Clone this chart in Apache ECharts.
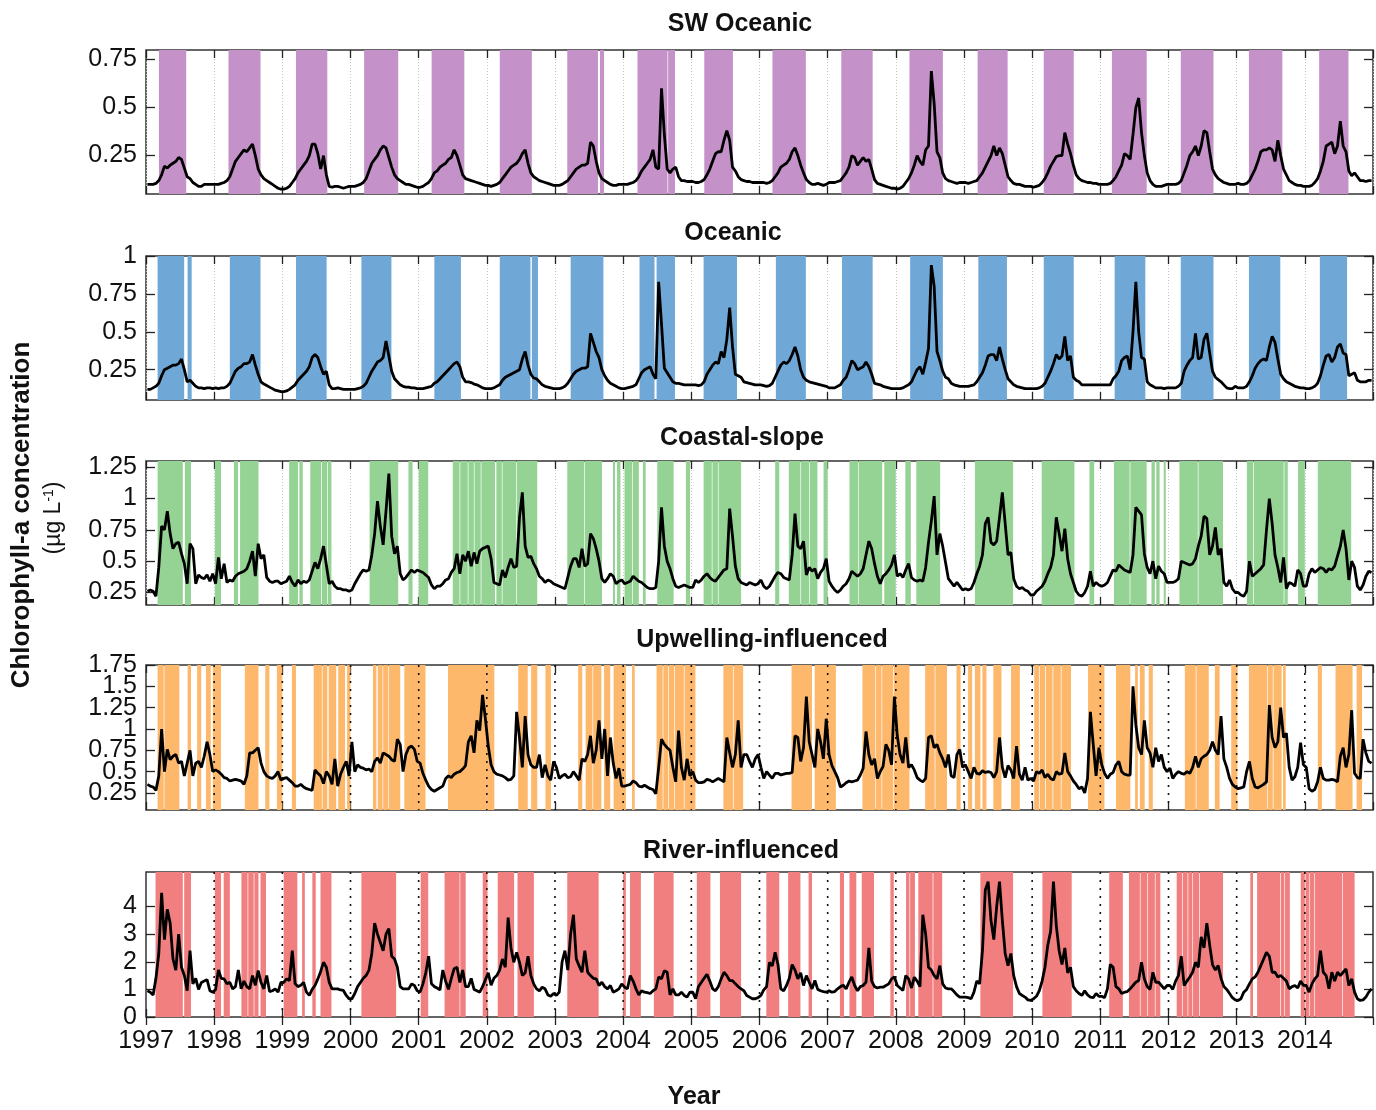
<!DOCTYPE html>
<html><head><meta charset="utf-8">
<script src="https://cdn.jsdelivr.net/npm/echarts@6/dist/echarts.min.js"></script>
<style>html,body{margin:0;padding:0;background:#fff}#c{width:1376px;height:1110px}</style>
</head><body><div id="c"></div>
<script>
// ---------------- DATA ----------------
const years = [1997,1998,1999,2000,2001,2002,2003,2004,2005,2006,2007,2008,2009,2010,2011,2012,2013,2014];
const samplesPerYear = 24;

// SW Oceanic: one row per year, semi-monthly values (µg/L)
const swOceanic = [
[0.10,0.10,0.10,0.105,0.12,0.15,0.195,0.185,0.20,0.21,0.22,0.24,0.23,0.185,0.14,0.13,0.11,0.10,0.09,0.09,0.10,0.10,0.10,0.10],
[0.10,0.10,0.105,0.11,0.12,0.14,0.18,0.22,0.24,0.26,0.28,0.27,0.29,0.31,0.25,0.18,0.15,0.13,0.12,0.11,0.10,0.09,0.08,0.075],
[0.075,0.08,0.09,0.11,0.13,0.16,0.18,0.20,0.22,0.25,0.31,0.31,0.26,0.18,0.25,0.15,0.09,0.085,0.09,0.09,0.085,0.08,0.085,0.09],
[0.09,0.09,0.095,0.10,0.11,0.13,0.17,0.21,0.23,0.25,0.28,0.30,0.29,0.24,0.19,0.15,0.13,0.12,0.11,0.10,0.10,0.095,0.09,0.085],
[0.085,0.09,0.10,0.11,0.13,0.16,0.17,0.19,0.20,0.21,0.23,0.24,0.28,0.25,0.20,0.15,0.13,0.125,0.12,0.115,0.11,0.105,0.10,0.095],
[0.095,0.09,0.095,0.10,0.11,0.13,0.15,0.17,0.19,0.20,0.21,0.23,0.26,0.28,0.21,0.16,0.14,0.13,0.12,0.115,0.11,0.105,0.10,0.095],
[0.095,0.095,0.10,0.11,0.12,0.14,0.16,0.18,0.19,0.20,0.20,0.21,0.32,0.30,0.22,0.16,0.13,0.12,0.11,0.10,0.095,0.095,0.10,0.10],
[0.10,0.10,0.105,0.11,0.12,0.14,0.17,0.19,0.21,0.23,0.28,0.19,0.18,0.60,0.36,0.18,0.16,0.18,0.19,0.14,0.12,0.12,0.115,0.115],
[0.115,0.11,0.11,0.115,0.125,0.15,0.18,0.22,0.26,0.27,0.27,0.33,0.38,0.33,0.19,0.17,0.14,0.125,0.12,0.115,0.115,0.11,0.11,0.11],
[0.11,0.11,0.105,0.11,0.12,0.14,0.16,0.19,0.20,0.21,0.23,0.27,0.29,0.25,0.20,0.16,0.125,0.11,0.10,0.10,0.105,0.10,0.095,0.10],
[0.11,0.11,0.11,0.115,0.12,0.14,0.16,0.19,0.25,0.24,0.20,0.22,0.24,0.22,0.23,0.18,0.125,0.105,0.10,0.095,0.09,0.085,0.08,0.08],
[0.075,0.08,0.09,0.11,0.13,0.16,0.20,0.25,0.22,0.20,0.28,0.30,0.69,0.52,0.27,0.24,0.16,0.13,0.12,0.115,0.11,0.105,0.11,0.11],
[0.11,0.105,0.11,0.115,0.12,0.14,0.16,0.19,0.22,0.25,0.30,0.25,0.29,0.26,0.20,0.14,0.12,0.105,0.10,0.10,0.095,0.09,0.09,0.09],
[0.085,0.09,0.095,0.11,0.13,0.16,0.195,0.22,0.245,0.25,0.25,0.37,0.31,0.26,0.20,0.15,0.13,0.12,0.115,0.11,0.11,0.105,0.105,0.10],
[0.10,0.10,0.10,0.105,0.12,0.14,0.17,0.20,0.26,0.25,0.23,0.36,0.50,0.55,0.37,0.25,0.16,0.12,0.10,0.09,0.09,0.09,0.095,0.10],
[0.10,0.10,0.10,0.105,0.12,0.16,0.20,0.25,0.27,0.30,0.25,0.30,0.38,0.37,0.27,0.18,0.15,0.13,0.12,0.11,0.105,0.10,0.10,0.10],
[0.105,0.10,0.10,0.105,0.12,0.15,0.18,0.22,0.27,0.28,0.28,0.29,0.28,0.22,0.33,0.25,0.18,0.15,0.12,0.11,0.10,0.095,0.095,0.09],
[0.09,0.09,0.095,0.11,0.13,0.17,0.22,0.30,0.31,0.32,0.26,0.30,0.43,0.30,0.27,0.17,0.145,0.16,0.14,0.12,0.12,0.115,0.12,0.12]
];
const oceanic = [
[0.12,0.12,0.13,0.14,0.16,0.21,0.25,0.26,0.27,0.28,0.28,0.29,0.32,0.25,0.17,0.18,0.16,0.14,0.13,0.13,0.125,0.13,0.13,0.125],
[0.13,0.125,0.13,0.13,0.14,0.16,0.20,0.24,0.26,0.27,0.29,0.29,0.30,0.35,0.28,0.22,0.17,0.155,0.145,0.135,0.125,0.115,0.11,0.105],
[0.105,0.11,0.12,0.135,0.15,0.18,0.20,0.22,0.24,0.27,0.33,0.35,0.33,0.27,0.22,0.24,0.15,0.125,0.125,0.13,0.125,0.12,0.12,0.12],
[0.12,0.12,0.125,0.13,0.14,0.16,0.20,0.24,0.27,0.30,0.31,0.33,0.44,0.34,0.24,0.19,0.17,0.15,0.14,0.135,0.135,0.13,0.13,0.125],
[0.125,0.125,0.13,0.135,0.14,0.16,0.17,0.19,0.21,0.23,0.25,0.27,0.29,0.30,0.27,0.20,0.17,0.17,0.165,0.155,0.15,0.14,0.13,0.125],
[0.125,0.125,0.13,0.14,0.15,0.18,0.20,0.21,0.22,0.23,0.24,0.25,0.32,0.37,0.28,0.22,0.195,0.19,0.17,0.15,0.14,0.135,0.13,0.125],
[0.125,0.125,0.13,0.14,0.16,0.19,0.22,0.24,0.25,0.26,0.26,0.27,0.49,0.43,0.37,0.33,0.25,0.21,0.18,0.16,0.15,0.14,0.13,0.125],
[0.125,0.13,0.135,0.14,0.15,0.19,0.23,0.25,0.26,0.27,0.22,0.19,0.83,0.55,0.26,0.23,0.20,0.17,0.16,0.16,0.155,0.15,0.15,0.15],
[0.15,0.15,0.145,0.15,0.17,0.22,0.25,0.28,0.30,0.29,0.37,0.33,0.45,0.66,0.40,0.22,0.21,0.20,0.17,0.165,0.16,0.155,0.15,0.15],
[0.15,0.145,0.14,0.145,0.16,0.20,0.24,0.28,0.30,0.29,0.31,0.35,0.40,0.34,0.25,0.20,0.18,0.17,0.165,0.16,0.155,0.15,0.145,0.14],
[0.13,0.13,0.13,0.14,0.15,0.18,0.20,0.25,0.31,0.29,0.25,0.26,0.27,0.30,0.27,0.22,0.16,0.155,0.15,0.14,0.135,0.13,0.125,0.125],
[0.125,0.125,0.13,0.14,0.15,0.17,0.21,0.25,0.27,0.22,0.30,0.39,0.94,0.80,0.37,0.31,0.24,0.20,0.19,0.16,0.15,0.145,0.14,0.14],
[0.14,0.14,0.145,0.15,0.17,0.20,0.23,0.28,0.34,0.35,0.35,0.31,0.40,0.32,0.25,0.19,0.17,0.15,0.14,0.135,0.13,0.125,0.125,0.125],
[0.125,0.125,0.13,0.14,0.16,0.20,0.24,0.29,0.35,0.32,0.34,0.47,0.31,0.34,0.20,0.18,0.17,0.15,0.15,0.15,0.15,0.15,0.15,0.15],
[0.15,0.15,0.15,0.15,0.19,0.21,0.24,0.31,0.33,0.34,0.25,0.50,0.83,0.50,0.33,0.32,0.17,0.15,0.14,0.13,0.13,0.13,0.125,0.13],
[0.13,0.13,0.13,0.14,0.16,0.24,0.28,0.31,0.33,0.49,0.32,0.33,0.45,0.49,0.36,0.24,0.20,0.185,0.17,0.15,0.13,0.125,0.125,0.14],
[0.13,0.13,0.13,0.14,0.17,0.21,0.26,0.29,0.31,0.32,0.31,0.40,0.47,0.43,0.32,0.22,0.19,0.17,0.16,0.15,0.14,0.135,0.13,0.13],
[0.125,0.125,0.13,0.14,0.16,0.21,0.28,0.34,0.35,0.30,0.33,0.40,0.42,0.36,0.35,0.21,0.22,0.23,0.18,0.17,0.17,0.17,0.18,0.18]
];
const coastalSlope = [
[0.26,0.27,0.26,0.22,0.45,0.78,0.75,0.90,0.72,0.60,0.64,0.65,0.56,0.48,0.32,0.64,0.60,0.32,0.39,0.37,0.36,0.39,0.34,0.40],
[0.32,0.53,0.36,0.48,0.33,0.35,0.34,0.38,0.40,0.41,0.42,0.44,0.50,0.58,0.38,0.64,0.52,0.55,0.37,0.34,0.33,0.34,0.34,0.32],
[0.33,0.34,0.38,0.33,0.30,0.35,0.32,0.34,0.33,0.35,0.42,0.49,0.44,0.52,0.62,0.47,0.32,0.34,0.30,0.28,0.28,0.27,0.27,0.26],
[0.27,0.32,0.36,0.40,0.43,0.42,0.43,0.55,0.72,0.98,0.78,0.63,0.90,1.20,0.70,0.56,0.62,0.40,0.35,0.37,0.40,0.43,0.41,0.43],
[0.42,0.41,0.39,0.37,0.31,0.28,0.30,0.30,0.32,0.35,0.36,0.41,0.44,0.56,0.40,0.55,0.50,0.58,0.46,0.57,0.48,0.58,0.60,0.61],
[0.62,0.52,0.33,0.32,0.31,0.43,0.37,0.45,0.52,0.45,0.46,0.85,1.05,0.62,0.53,0.54,0.48,0.44,0.38,0.36,0.33,0.35,0.34,0.32],
[0.31,0.30,0.29,0.28,0.37,0.46,0.52,0.52,0.45,0.60,0.46,0.48,0.72,0.68,0.60,0.50,0.36,0.33,0.36,0.40,0.38,0.32,0.34,0.35],
[0.32,0.33,0.34,0.38,0.36,0.34,0.33,0.31,0.29,0.28,0.28,0.29,0.50,0.93,0.62,0.50,0.44,0.36,0.30,0.29,0.30,0.31,0.30,0.29],
[0.29,0.35,0.33,0.35,0.38,0.40,0.37,0.35,0.34,0.37,0.40,0.43,0.44,0.92,0.70,0.46,0.36,0.33,0.32,0.31,0.33,0.32,0.31,0.32],
[0.35,0.30,0.28,0.30,0.34,0.38,0.41,0.40,0.37,0.36,0.35,0.55,0.88,0.62,0.60,0.66,0.39,0.45,0.42,0.44,0.36,0.41,0.44,0.52],
[0.34,0.30,0.27,0.25,0.27,0.30,0.32,0.36,0.42,0.40,0.38,0.40,0.44,0.55,0.66,0.60,0.48,0.38,0.32,0.38,0.40,0.43,0.47,0.55],
[0.38,0.40,0.37,0.43,0.48,0.37,0.35,0.34,0.35,0.34,0.45,0.65,0.82,1.02,0.55,0.72,0.62,0.49,0.36,0.33,0.30,0.33,0.30,0.27],
[0.28,0.27,0.28,0.33,0.40,0.46,0.55,0.80,0.85,0.65,0.63,0.66,0.85,1.05,0.80,0.55,0.57,0.36,0.30,0.28,0.29,0.27,0.26,0.23],
[0.23,0.26,0.28,0.30,0.34,0.40,0.45,0.55,0.85,0.72,0.58,0.76,0.52,0.40,0.33,0.26,0.23,0.22,0.25,0.30,0.42,0.30,0.33,0.31],
[0.30,0.31,0.33,0.38,0.43,0.42,0.47,0.45,0.43,0.42,0.41,0.55,0.93,0.90,0.87,0.56,0.45,0.40,0.50,0.36,0.46,0.42,0.40,0.33],
[0.33,0.33,0.34,0.36,0.50,0.49,0.48,0.47,0.48,0.52,0.62,0.70,0.86,0.84,0.55,0.62,0.77,0.55,0.60,0.33,0.30,0.35,0.28,0.25],
[0.25,0.23,0.22,0.26,0.50,0.38,0.40,0.42,0.44,0.47,0.75,1.00,0.80,0.55,0.45,0.33,0.53,0.28,0.33,0.32,0.30,0.43,0.40,0.30],
[0.30,0.40,0.44,0.41,0.43,0.45,0.44,0.41,0.44,0.43,0.46,0.54,0.62,0.75,0.60,0.35,0.50,0.45,0.30,0.27,0.31,0.38,0.42,0.41]
];
const upwelling = [
[0.35,0.33,0.32,0.28,0.45,1.00,0.50,0.76,0.64,0.68,0.70,0.60,0.62,0.45,0.60,0.75,0.45,0.60,0.62,0.55,0.68,0.85,0.70,0.50],
[0.52,0.50,0.47,0.43,0.42,0.39,0.40,0.41,0.40,0.39,0.35,0.45,0.72,0.72,0.75,0.78,0.60,0.50,0.45,0.43,0.42,0.45,0.50,0.40],
[0.42,0.43,0.40,0.37,0.33,0.33,0.35,0.32,0.30,0.29,0.28,0.52,0.48,0.45,0.36,0.50,0.45,0.35,0.65,0.33,0.47,0.55,0.62,0.45],
[0.85,0.50,0.58,0.55,0.54,0.52,0.53,0.50,0.62,0.66,0.60,0.72,0.70,0.68,0.64,0.62,0.88,0.82,0.50,0.70,0.78,0.80,0.76,0.62],
[0.60,0.48,0.40,0.33,0.29,0.27,0.29,0.31,0.33,0.42,0.45,0.43,0.47,0.49,0.50,0.53,0.57,0.85,0.92,0.72,1.10,0.98,1.40,1.12],
[0.80,0.58,0.50,0.47,0.46,0.45,0.43,0.40,0.41,0.45,1.20,0.90,0.55,1.15,0.70,0.58,0.55,0.55,0.70,0.43,0.58,0.45,0.40,0.62],
[0.55,0.42,0.45,0.47,0.43,0.44,0.50,0.45,0.40,0.65,0.62,0.70,0.92,0.60,0.75,1.10,0.65,1.00,0.45,0.90,0.60,0.42,0.54,0.33],
[0.33,0.34,0.35,0.39,0.37,0.33,0.32,0.34,0.32,0.30,0.29,0.24,0.55,0.88,0.82,0.78,0.75,0.55,0.38,0.98,0.55,0.40,0.65,0.45],
[0.50,0.40,0.37,0.37,0.38,0.41,0.40,0.38,0.40,0.42,0.40,0.38,0.90,0.72,0.55,0.70,1.10,0.55,0.70,0.70,0.62,0.55,0.65,0.70],
[0.55,0.42,0.50,0.46,0.42,0.48,0.48,0.46,0.47,0.48,0.48,0.49,0.92,0.90,0.62,0.78,1.38,0.85,0.70,0.55,1.00,0.85,0.65,1.12],
[0.70,0.57,0.50,0.43,0.32,0.34,0.37,0.39,0.38,0.39,0.40,0.46,0.54,0.97,0.70,0.58,0.65,0.42,0.50,0.56,0.82,0.75,0.58,1.38],
[0.92,0.70,0.60,0.90,0.55,0.58,0.52,0.43,0.40,0.38,0.42,0.90,0.92,0.78,0.82,0.72,0.65,0.55,0.70,0.45,0.43,0.70,0.76,0.55],
[0.58,0.50,0.42,0.55,0.48,0.47,0.51,0.49,0.50,0.49,0.43,0.50,0.90,0.55,0.43,0.57,0.52,0.42,0.80,0.47,0.40,0.55,0.40,0.42],
[0.39,0.50,0.48,0.52,0.43,0.47,0.42,0.40,0.50,0.47,0.48,0.72,0.50,0.45,0.39,0.35,0.30,0.32,0.25,0.42,1.20,0.82,0.45,0.78],
[0.58,0.48,0.42,0.47,0.49,0.58,0.62,0.50,0.47,0.46,0.46,1.50,1.05,0.78,0.70,1.10,0.78,0.72,0.55,0.78,0.62,0.70,0.55,0.50],
[0.54,0.42,0.47,0.50,0.48,0.47,0.50,0.48,0.55,0.68,0.55,0.65,0.68,0.70,0.75,0.85,0.75,0.70,1.15,0.65,0.55,0.42,0.35,0.32],
[0.30,0.31,0.32,0.50,0.62,0.42,0.32,0.31,0.33,0.35,0.38,1.28,0.90,0.78,0.85,1.25,0.90,0.95,0.55,0.40,0.44,0.55,0.84,0.58],
[0.55,0.30,0.27,0.29,0.38,0.55,0.42,0.40,0.40,0.41,0.40,0.38,0.68,0.78,0.55,0.70,1.22,0.48,0.43,0.42,0.88,0.72,0.62,0.60]
];
const river = [
[0.95,0.90,0.80,1.40,2.30,4.50,2.80,3.90,3.40,2.10,1.70,3.00,1.80,1.50,0.95,2.40,1.20,1.40,1.00,1.25,1.30,1.35,0.95,0.90],
[1.00,1.70,1.40,1.38,1.20,1.26,1.02,1.10,1.70,1.02,1.30,1.10,1.02,1.50,1.15,1.68,1.25,1.02,1.50,0.92,0.95,1.02,0.90,1.25],
[1.25,1.38,1.32,2.40,1.20,1.10,1.15,1.25,0.90,0.78,1.00,1.14,1.38,1.65,1.98,1.80,1.26,1.02,1.02,1.02,0.98,0.96,0.78,0.66],
[0.66,0.85,1.10,1.25,1.40,1.50,1.70,2.30,3.40,3.00,2.70,2.40,3.00,3.20,2.20,2.10,1.80,1.10,1.02,1.02,1.02,1.20,1.14,0.95],
[0.90,1.20,1.60,2.20,1.20,1.10,1.05,0.98,1.70,1.30,1.00,1.40,1.75,1.80,1.25,1.70,1.10,1.10,1.40,1.00,0.95,0.90,1.10,1.35],
[1.60,1.15,1.40,1.50,1.70,2.10,1.80,3.60,2.50,1.98,2.34,1.98,1.50,1.60,2.20,1.50,1.20,1.02,0.95,1.08,1.02,0.80,0.75,0.85],
[0.78,0.90,2.00,2.40,1.70,3.00,3.70,2.10,1.85,1.62,2.40,1.62,1.50,1.40,1.38,1.14,1.26,1.10,1.02,1.14,0.90,0.95,1.02,1.20],
[1.08,1.02,1.50,1.30,1.02,0.80,0.95,0.90,0.88,0.85,0.95,1.02,1.45,1.38,1.68,1.62,0.80,1.02,0.80,0.80,0.90,0.78,0.72,0.90],
[0.90,0.66,1.10,1.25,1.40,1.55,1.30,1.02,0.95,1.10,1.38,1.62,1.50,1.32,1.32,1.20,1.10,1.02,0.95,0.78,0.72,0.66,0.66,0.70],
[0.78,0.98,1.10,1.98,1.85,2.34,1.90,1.02,0.95,1.14,1.40,1.90,1.70,1.38,1.60,1.14,1.50,1.26,1.02,1.32,1.00,0.95,0.92,0.90],
[0.95,0.90,0.92,1.02,1.10,1.15,1.02,1.26,1.45,1.14,0.95,1.10,1.14,1.26,2.50,1.30,1.10,1.05,1.08,1.08,1.14,1.20,1.38,1.45],
[1.14,1.05,0.96,1.50,1.38,1.05,1.44,1.30,1.10,3.70,3.00,1.80,1.70,1.50,1.38,1.86,1.20,1.05,1.02,1.02,0.92,0.80,0.72,0.72],
[0.72,0.70,0.66,0.90,1.30,1.20,2.40,4.60,4.90,3.50,2.80,4.00,4.90,3.50,2.30,1.86,2.30,1.50,1.10,0.85,0.78,0.72,0.62,0.60],
[0.66,0.75,0.95,1.30,1.80,2.60,3.10,4.90,3.30,2.40,1.90,2.50,1.60,1.80,1.10,0.95,0.85,0.78,0.95,0.80,0.72,0.70,0.85,0.75],
[0.75,0.70,1.02,1.90,1.80,1.10,1.02,0.85,0.90,0.92,1.02,1.14,1.26,1.32,1.98,1.38,1.10,1.00,1.62,1.25,1.26,1.14,1.02,1.14],
[1.14,1.00,1.30,1.50,2.20,1.14,1.30,1.45,1.62,1.98,1.80,2.90,2.50,3.40,2.60,1.90,1.70,1.86,1.40,1.10,1.00,0.85,0.70,0.62],
[0.60,0.66,0.90,1.00,1.20,1.38,1.45,1.62,1.86,2.10,2.34,2.20,1.62,1.62,1.45,1.50,1.40,1.30,1.02,1.10,1.14,1.05,1.30,1.15],
[1.14,0.90,1.20,1.38,1.50,2.40,1.62,1.50,1.02,1.62,1.30,1.62,1.50,1.62,1.74,1.14,1.38,0.90,0.66,0.60,0.62,0.72,0.90,1.02]
];

// Bloom periods (shaded), [start, end] in decimal years
const swBands = [[1997.19,1997.59],[1998.21,1998.68],[1999.20,1999.66],[2000.20,2000.70],[2001.19,2001.67],[2002.19,2002.66],[2003.18,2003.63],[2003.66,2003.72],[2004.21,2004.65],[2004.66,2004.76],[2005.19,2005.61],[2006.19,2006.68],[2007.20,2007.66],[2008.20,2008.69],[2009.20,2009.64],[2010.17,2010.61],[2011.17,2011.68],[2012.18,2012.66],[2013.18,2013.67],[2014.21,2014.64]];
const oceanicBands = [[1997.17,1997.56],[1997.61,1997.67],[1998.23,1998.68],[1999.20,1999.65],[2000.16,2000.60],[2001.23,2001.62],[2002.19,2002.64],[2002.66,2002.75],[2003.23,2003.71],[2004.24,2004.46],[2004.49,2004.76],[2005.18,2005.67],[2006.24,2006.68],[2007.21,2007.66],[2008.21,2008.69],[2009.21,2009.63],[2010.17,2010.61],[2011.21,2011.66],[2012.18,2012.66],[2013.18,2013.64],[2014.22,2014.62]];
const coastalBands = [[1997.17,1997.54],[1997.57,1997.66],[1998.01,1998.10],[1998.29,1998.35],[1998.38,1998.65],[1999.10,1999.23],[1999.25,1999.30],[1999.41,1999.57],[1999.58,1999.66],[1999.67,1999.72],[2000.28,2000.70],[2000.85,2000.91],[2001.00,2001.14],[2001.50,2001.60],[2001.61,2001.72],[2001.73,2001.81],[2001.82,2001.91],[2001.92,2002.12],[2002.14,2002.22],[2002.23,2002.43],[2002.44,2002.74],[2003.18,2003.43],[2003.44,2003.69],[2003.85,2003.88],[2003.91,2003.96],[2004.02,2004.13],[2004.14,2004.23],[2004.29,2004.33],[2004.50,2004.74],[2004.92,2004.98],[2005.18,2005.30],[2005.31,2005.39],[2005.40,2005.73],[2006.23,2006.29],[2006.43,2006.60],[2006.61,2006.73],[2006.74,2006.85],[2006.94,2007.00],[2007.32,2007.45],[2007.46,2007.80],[2007.83,2008.00],[2008.14,2008.22],[2008.30,2008.65],[2009.16,2009.72],[2010.14,2010.62],[2010.84,2010.91],[2011.20,2011.43],[2011.44,2011.68],[2011.75,2011.80],[2011.82,2011.87],[2011.93,2011.96],[2012.16,2012.43],[2012.44,2012.80],[2013.15,2013.24],[2013.25,2013.69],[2013.70,2013.75],[2013.90,2014.00],[2014.19,2014.68]];
const upwellingBands = [[1997.17,1997.26],[1997.27,1997.49],[1997.61,1997.66],[1997.75,1997.81],[1997.88,1997.95],[1997.98,1998.10],[1998.45,1998.65],[1998.75,1998.81],[1998.92,1999.00],[1999.14,1999.20],[1999.46,1999.58],[1999.59,1999.66],[1999.68,1999.79],[1999.82,1999.92],[1999.95,2000.00],[2000.33,2000.38],[2000.40,2000.47],[2000.48,2000.55],[2000.56,2000.73],[2000.79,2001.10],[2001.43,2002.11],[2002.46,2002.60],[2002.65,2002.74],[2002.86,2002.94],[2003.34,2003.40],[2003.45,2003.55],[2003.56,2003.68],[2003.72,2003.81],[2003.86,2004.04],[2004.13,2004.17],[2004.49,2004.58],[2004.59,2004.66],[2004.67,2004.75],[2004.76,2004.89],[2004.90,2005.06],[2005.47,2005.61],[2005.62,2005.76],[2006.47,2006.77],[2006.81,2007.12],[2007.51,2007.70],[2007.71,2007.79],[2007.80,2007.96],[2007.97,2008.20],[2008.43,2008.57],[2008.58,2008.75],[2008.89,2008.95],[2009.06,2009.12],[2009.16,2009.24],[2009.27,2009.33],[2009.43,2009.55],[2009.69,2009.82],[2010.03,2010.10],[2010.11,2010.19],[2010.20,2010.30],[2010.31,2010.42],[2010.43,2010.57],[2010.82,2011.06],[2011.23,2011.44],[2011.51,2011.55],[2011.58,2011.65],[2011.71,2011.77],[2012.24,2012.40],[2012.41,2012.59],[2012.68,2012.75],[2012.92,2013.01],[2013.18,2013.45],[2013.46,2013.53],[2013.54,2013.66],[2013.68,2013.72],[2014.19,2014.25],[2014.45,2014.70],[2014.76,2014.84]];
const riverBands = [[1997.14,1997.54],[1997.56,1997.66],[1998.01,1998.10],[1998.14,1998.23],[1998.40,1998.49],[1998.50,1998.58],[1998.59,1998.65],[1998.68,1998.76],[1999.02,1999.22],[1999.29,1999.33],[1999.44,1999.49],[1999.56,1999.72],[2000.16,2000.67],[2001.03,2001.14],[2001.38,2001.60],[2001.61,2001.69],[2001.94,2002.01],[2002.16,2002.40],[2002.45,2002.69],[2003.18,2003.64],[2004.00,2004.04],[2004.10,2004.26],[2004.45,2004.74],[2005.08,2005.28],[2005.42,2005.73],[2006.10,2006.29],[2006.42,2006.60],[2006.72,2006.77],[2007.18,2007.24],[2007.32,2007.42],[2007.50,2007.68],[2007.92,2007.97],[2008.15,2008.20],[2008.21,2008.28],[2008.33,2008.54],[2008.55,2008.68],[2009.24,2009.72],[2010.15,2010.58],[2011.13,2011.33],[2011.42,2011.58],[2011.59,2011.69],[2011.70,2011.80],[2011.81,2011.88],[2012.12,2012.20],[2012.21,2012.28],[2012.29,2012.35],[2012.36,2012.45],[2012.46,2012.80],[2013.20,2013.24],[2013.30,2013.64],[2013.65,2013.70],[2013.71,2013.78],[2013.94,2014.00],[2014.01,2014.06],[2014.07,2014.14],[2014.15,2014.55],[2014.56,2014.73]];

// Tick labels
const swTicks = [0.25,0.5,0.75];
const oceanicTicks = [0.25,0.5,0.75,1];
const coastalTicks = [0.25,0.5,0.75,1,1.25];
const upwellingTicks = [0.25,0.5,0.75,1,1.25,1.5,1.75];
const riverTicks = [0,1,2,3,4];
const panelTitles = ['SW Oceanic','Oceanic','Coastal-slope','Upwelling-influenced','River-influenced'];

// ---------------- LAYOUT / STYLE ----------------
const FONT = '"Liberation Sans", Arial, Helvetica, sans-serif';
const panels = [
  {data: swOceanic, bands: swBands, ticks: swTicks, color:'#c491c9', min:0.05, max:0.8, top:50, height:144, tx:740, ty:24, darkYears:false},
  {data: oceanic, bands: oceanicBands, ticks: oceanicTicks, color:'#6fa8d7', min:0.05, max:1.0, top:256, height:144, tx:733, ty:233, darkYears:false},
  {data: coastalSlope, bands: coastalBands, ticks: coastalTicks, color:'#95d395', min:0.15, max:1.3, top:461, height:144, tx:742, ty:438, darkYears:false},
  {data: upwelling, bands: upwellingBands, ticks: upwellingTicks, color:'#fdb86c', min:0.05, max:1.75, top:665, height:145, tx:762, ty:640, darkYears:true},
  {data: river, bands: riverBands, ticks: riverTicks, color:'#f17f7f', min:0, max:5.25, top:872, height:145, tx:741, ty:851, darkYears:true}
];
const LEFT = 146, WIDTH = 1227;

const grids = [], xAxes = [], yAxes = [], series = [], graphics = [];
const labelStyle = {fontSize: 25, fontFamily: FONT, color: '#111', margin: 9,
  showMinLabel: true, showMaxLabel: true, hideOverlap: false,
  formatter: v => String(+(+v).toFixed(2))};
const tickStyle = {color: '#222', width: 1.3};

panels.forEach((p, i) => {
  grids.push({left: LEFT, top: p.top, width: WIDTH, height: p.height, show: true, borderColor: '#333', borderWidth: 1.5, backgroundColor: 'transparent'});
  const isLast = i === panels.length - 1;
  const xb = xAxes.length;
  xAxes.push({
    gridIndex: i, type: 'value', min: 1997, max: 2015, interval: 1, position: 'bottom',
    axisLine: {show: false},
    axisTick: {show: true, inside: true, length: 8, lineStyle: tickStyle},
    axisLabel: {show: isLast, fontSize: 25, fontFamily: FONT, color: '#111', margin: 12,
      showMinLabel: true, showMaxLabel: false, hideOverlap: false,
      formatter: v => (v >= 2015 ? '' : String(v))},
    splitLine: {show: !p.darkYears, lineStyle: {color: '#c8c8c8', width: 1, type: [1, 2]}}
  });
  xAxes.push({
    gridIndex: i, type: 'value', min: 1997, max: 2015, interval: 1, position: 'top',
    axisLine: {show: false},
    axisTick: {show: true, inside: true, length: 8, lineStyle: tickStyle},
    axisLabel: {show: false}, splitLine: {show: false}
  });
  // labels split over two overlapping left axes so that crowded labels are all drawn
  const evenTicks = p.ticks.filter((t, j) => j % 2 === 0);
  const oddTicks = p.ticks.filter((t, j) => j % 2 === 1);
  const yl = yAxes.length;
  yAxes.push({
    gridIndex: i, type: 'value', min: p.min, max: p.max, position: 'left', offset: 0,
    axisLine: {show: false},
    axisTick: {show: true, inside: true, length: 9, customValues: p.ticks, lineStyle: tickStyle},
    axisLabel: Object.assign({show: true, customValues: evenTicks}, labelStyle),
    splitLine: {show: false}
  });
  yAxes.push({
    gridIndex: i, type: 'value', min: p.min, max: p.max, position: 'left', offset: 0,
    axisLine: {show: false},
    axisTick: {show: false},
    axisLabel: Object.assign({show: oddTicks.length > 0, customValues: oddTicks.length ? oddTicks : [p.min]}, labelStyle),
    splitLine: {show: false}
  });
  yAxes.push({
    gridIndex: i, type: 'value', min: p.min, max: p.max, position: 'right', offset: 0,
    axisLine: {show: false},
    axisTick: {show: true, inside: true, length: 9, customValues: p.ticks, lineStyle: tickStyle},
    axisLabel: {show: false}, splitLine: {show: false}
  });
  // shaded bloom periods
  series.push({
    type: 'custom', xAxisIndex: xb, yAxisIndex: yl, data: p.bands, encode: {x: [0, 1]},
    silent: true, z: 1, clip: true,
    renderItem: (params, api) => {
      const cs = params.coordSys;
      const a = api.coord([api.value(0), p.min])[0];
      const b = api.coord([api.value(1), p.min])[0];
      return {type: 'rect', shape: {x: a, y: cs.y, width: b - a, height: cs.height}, style: {fill: p.color}};
    }
  });
  if (p.darkYears) {
    series.push({
      type: 'custom', xAxisIndex: xb, yAxisIndex: yl, data: years.slice(1).map(y => [y]), encode: {x: 0},
      silent: true, z: 2, clip: true,
      renderItem: (params, api) => {
        const cs = params.coordSys;
        const x = api.coord([api.value(0), p.min])[0];
        return {type: 'line', shape: {x1: x, y1: cs.y, x2: x, y2: cs.y + cs.height},
          style: {stroke: '#111', lineWidth: 1.6, lineDash: [2, 6]}};
      }
    });
  }
  // chlorophyll line
  const pts = [];
  p.data.forEach((row, yi) => row.forEach((v, k) => pts.push([years[yi] + (k + 0.5) / samplesPerYear, v])));
  series.push({
    type: 'line', xAxisIndex: xb, yAxisIndex: yl, data: pts, showSymbol: false, symbol: 'none',
    lineStyle: {color: '#000', width: 2.8}, z: 3, clip: true, silent: true
  });
  graphics.push({type: 'text', x: p.tx, y: p.ty, style: {text: panelTitles[i], font: 'bold 25px ' + FONT, fill: '#111', align: 'center', verticalAlign: 'middle'}});
});

graphics.push({type: 'text', x: 22, y: 515, rotation: Math.PI / 2,
  style: {text: 'Chlorophyll-a concentration', font: 'bold 26px ' + FONT, fill: '#111', align: 'center', verticalAlign: 'middle'}});
graphics.push({type: 'text', x: 54, y: 518, rotation: Math.PI / 2,
  style: {text: '(µg L{sup|-1})', font: '23px ' + FONT, fill: '#111', align: 'center', verticalAlign: 'middle',
    rich: {sup: {fontSize: 14, fontFamily: FONT, verticalAlign: 'top', fill: '#111'}}}});
graphics.push({type: 'text', x: 694, y: 1097,
  style: {text: 'Year', font: 'bold 25px ' + FONT, fill: '#111', align: 'center', verticalAlign: 'middle'}});

const chart = echarts.init(document.getElementById('c'), null, {renderer: 'canvas'});
chart.setOption({
  animation: false,
  backgroundColor: '#fff',
  grid: grids, xAxis: xAxes, yAxis: yAxes, series: series, graphic: graphics
});
</script></body></html>
